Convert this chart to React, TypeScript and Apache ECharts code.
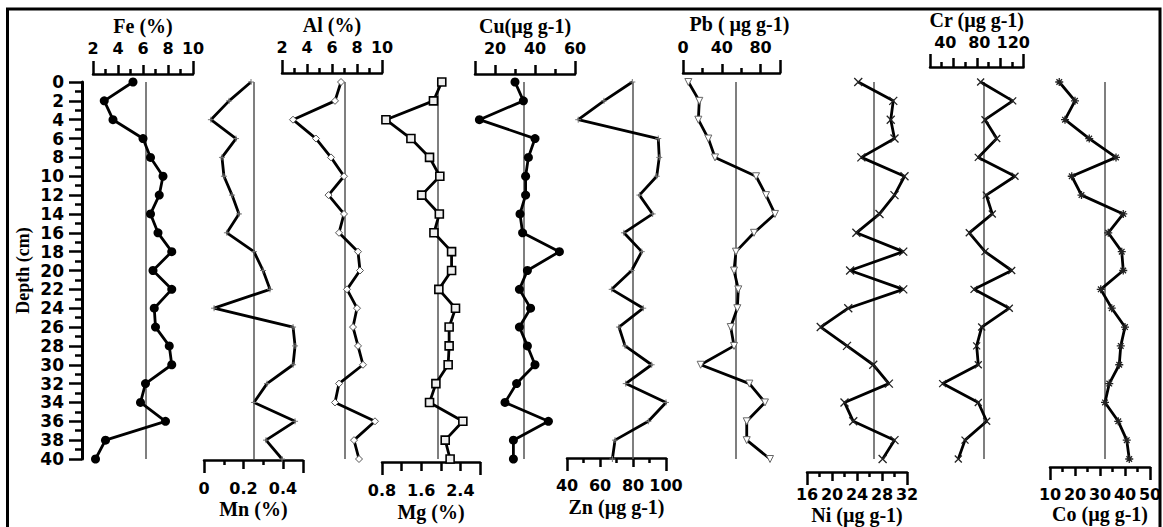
import React, { useEffect, useRef } from "react";
import * as echarts from "echarts";

// Sampling depths (cm)
const depths = [0, 2, 4, 6, 8, 10, 12, 14, 16, 18, 20, 22, 24, 26, 28, 30, 32, 34, 36, 38, 40];

// Element concentrations down the core
const fe = [5.2, 2.9, 3.6, 6.0, 6.6, 7.6, 7.3, 6.6, 7.2, 8.3, 6.8, 8.3, 6.9, 7.0, 8.1, 8.3, 6.2, 5.8, 7.8, 3.0, 2.2];
const mn = [0.238, 0.127, 0.035, 0.162, 0.091, 0.101, 0.142, 0.177, 0.116, 0.253, 0.299, 0.334, 0.051, 0.451, 0.461, 0.451, 0.319, 0.253, 0.461, 0.314, 0.395];
const al = [6.72, 6.24, 2.88, 4.72, 5.92, 6.96, 5.72, 6.96, 6.56, 8.08, 8.24, 7.2, 8.0, 7.68, 8.08, 8.48, 6.56, 6.24, 9.44, 7.76, 8.16];
const mg = [2.02, 1.85, 0.88, 1.39, 1.77, 1.98, 1.61, 1.97, 1.86, 2.22, 2.22, 1.96, 2.3, 2.17, 2.17, 2.15, 1.9, 1.77, 2.45, 2.09, 2.19];
const cu = [30, 34.2, 12.2, 40, 36.7, 35.3, 35.3, 32.5, 33.8, 52.2, 36.2, 32.2, 37.8, 32.2, 36.2, 40, 30.8, 25, 46.7, 29.2, 29.2];
const zn = [79.6, 62.4, 46.8, 95.3, 95.9, 94.4, 83.9, 91.9, 74.5, 85.3, 79.2, 67.1, 86.2, 71.5, 75.2, 91.3, 75.6, 100, 89.3, 69.1, 67.5];
const pb = [5.5, 16.8, 15.8, 26.1, 33, 75.3, 85.6, 94.8, 73.2, 54.6, 52.6, 57, 56, 49.2, 52.6, 18.2, 68.4, 84.5, 65.7, 65.7, 89.7];
const ni = [24.2, 29.8, 29.4, 30.0, 24.7, 31.6, 30.0, 27.6, 23.9, 31.4, 22.9, 31.4, 22.6, 18.2, 22.4, 26.6, 29.1, 22.0, 23.4, 30.0, 28.1];
const cr = [81.6, 119.3, 86.7, 100.5, 78.8, 122, 88.2, 95.3, 68.2, 86.7, 118.1, 73.8, 115.3, 82.8, 76.9, 78.8, 36.9, 78.8, 88.7, 63.2, 55.3];
const co = [13.7, 20, 16, 25.7, 36.4, 18.7, 22.6, 39.3, 33.3, 38.7, 39.3, 30.3, 34.7, 40, 38.3, 37.7, 33.7, 32, 37.3, 40.7, 41.7];

// Mean values shown as vertical reference lines
const means = { fe: 6.24, mn: 0.25, al: 7.0, mg: 1.94, cu: 34.5, zn: 80, pb: 54.6, ni: 26.7, cr: 85.5, co: 32 };

// Axis extents, tick values and labelled values per element
const feAxis = { min: 2, max: 10, labels: [2, 4, 6, 8, 10], major: [4, 6, 8], minor: [3, 5, 7, 9] };
const mnAxis = { min: 0, max: 0.5, labels: [0, 0.2, 0.4], major: [0.2, 0.4], minor: [0.1, 0.3] };
const alAxis = { min: 2, max: 10, labels: [2, 4, 6, 8, 10], major: [4, 6, 8], minor: [3, 5, 7, 9] };
const mgAxis = { min: 0.8, max: 2.8, labels: [0.8, 1.6, 2.4], major: [1.2, 1.6, 2.0, 2.4], minor: [] as number[] };
const cuAxis = { min: 10, max: 60, labels: [20, 40, 60], major: [20, 40], minor: [30, 50] };
const znAxis = { min: 40, max: 100, labels: [40, 60, 80, 100], major: [60, 80], minor: [50, 70, 90] };
const pbAxis = { min: 0, max: 100, labels: [0, 40, 80], major: [40, 80], minor: [20, 60] };
const niAxis = { min: 16, max: 32, labels: [16, 20, 24, 28, 32], major: [20, 24, 28], minor: [18, 22, 26, 30] };
const crAxis = { min: 22, max: 132, labels: [40, 80, 120], major: [49.5, 77, 104.5], minor: [35.75, 63.25, 90.75, 118.25] };
const coAxis = { min: 10, max: 50, labels: [10, 20, 30, 40, 50], major: [20, 30, 40], minor: [15, 25, 35, 45] };

const PLUS = "path://M5,0L5,10M0,5L10,5";
const CROSS = "path://M0,0L10,10M10,0L0,10";
const STAR = "path://M5,0L5,10M0,5L10,5M1.5,1.5L8.5,8.5M8.5,1.5L1.5,8.5";

type AxisSpec = { min: number; max: number; labels: number[]; major: number[]; minor: number[] };
type Panel = {
  name: string;
  values: number[];
  mean: number;
  axis: AxisSpec;
  left: number;
  width: number;
  side: "top" | "bottom";
  offset: number;
  labelMargin: number;
  nameGap: number;
  namePad?: number[];
  symbol: string;
  symbolSize: number;
  symbolRotate?: number;
  itemStyle: Record<string, unknown>;
};

const panels: Panel[] = [
  { name: "Fe (%)", values: fe, mean: means.fe, axis: feAxis, left: 93, width: 100, side: "top", offset: 8, labelMargin: 18, nameGap: 38,
    symbol: "circle", symbolSize: 9, itemStyle: { color: "#000" } },
  { name: "Mn (%)", values: mn, mean: means.mn, axis: mnAxis, left: 204, width: 98.75, side: "bottom", offset: 1, labelMargin: 20, nameGap: 39,
    symbol: PLUS, symbolSize: 6, itemStyle: { color: "#000", borderColor: "#777", borderWidth: 1 } },
  { name: "Al (%)", values: al, mean: means.al, axis: alAxis, left: 282, width: 100, side: "top", offset: 9, labelMargin: 18, nameGap: 38,
    symbol: "diamond", symbolSize: 7, itemStyle: { color: "#fff", borderColor: "#555", borderWidth: 1 } },
  { name: "Mg (%)", values: mg, mean: means.mg, axis: mgAxis, left: 382, width: 98, side: "bottom", offset: 3, labelMargin: 20, nameGap: 40,
    symbol: "rect", symbolSize: 8, itemStyle: { color: "#eee", borderColor: "#000", borderWidth: 1.6 } },
  { name: "Cu(µg g-1)", values: cu, mean: means.cu, axis: cuAxis, left: 475, width: 100, side: "top", offset: 8, labelMargin: 18, nameGap: 38,
    symbol: "circle", symbolSize: 9, itemStyle: { color: "#000" } },
  { name: "Zn (µg g-1)", values: zn, mean: means.zn, axis: znAxis, left: 567, width: 99, side: "bottom", offset: -1, labelMargin: 19, nameGap: 39,
    symbol: PLUS, symbolSize: 6, itemStyle: { color: "#000", borderColor: "#777", borderWidth: 1 } },
  { name: "Pb ( µg g-1)", values: pb, mean: means.pb, axis: pbAxis, left: 683, width: 97, side: "top", offset: 9, labelMargin: 18, nameGap: 39, namePad: [0, 0, 0, 16],
    symbol: "triangle", symbolSize: 7, symbolRotate: 180, itemStyle: { color: "#fff", borderColor: "#666", borderWidth: 1 } },
  { name: "Ni (µg g-1)", values: ni, mean: means.ni, axis: niAxis, left: 807, width: 100, side: "bottom", offset: 13, labelMargin: 14, nameGap: 33,
    symbol: CROSS, symbolSize: 8, itemStyle: { color: "#000", borderColor: "#222", borderWidth: 1.3 } },
  { name: "Cr (µg g-1)", values: cr, mean: means.cr, axis: crAxis, left: 930, width: 93.5, side: "top", offset: 15, labelMargin: 17, nameGap: 37,
    symbol: CROSS, symbolSize: 7, itemStyle: { color: "#000", borderColor: "#222", borderWidth: 1.3 } },
  { name: "Co (µg g-1)", values: co, mean: means.co, axis: coAxis, left: 1050, width: 100, side: "bottom", offset: 8, labelMargin: 19, nameGap: 37,
    symbol: STAR, symbolSize: 8, itemStyle: { color: "#000", borderColor: "#222", borderWidth: 1.3 } },
];

const PLOT_TOP = 82;
const PLOT_HEIGHT = 377;

const labelFont = { color: "#000", fontFamily: "DejaVu Sans", fontWeight: "bold" as const, fontSize: 16 };
const titleFont = { color: "#000", fontFamily: "Liberation Serif", fontWeight: "bold" as const, fontSize: 20 };
const tickLine = { color: "#000", width: 2.5 };

function buildOption() {
  const grid = panels.map((p) => ({
    left: p.left,
    top: PLOT_TOP,
    width: p.width,
    height: PLOT_HEIGHT,
    outerBoundsMode: "none",
  }));

  const xAxis: any[] = [];
  panels.forEach((p, i) => {
    const base = {
      type: "value",
      gridIndex: i,
      min: p.axis.min,
      max: p.axis.max,
      position: p.side,
      offset: p.offset,
      splitLine: { show: false },
    };
    // main axis: line, end ticks, labels, title
    xAxis.push({
      ...base,
      name: p.name,
      nameLocation: "middle",
      nameGap: p.nameGap,
      nameMoveOverlap: false,
      nameTextStyle: { ...titleFont, padding: p.namePad || 0 },
      axisLine: { show: true, onZero: false, lineStyle: { color: "#000", width: 2.5 } },
      axisTick: { show: true, customValues: [p.axis.min, p.axis.max], length: 13, lineStyle: tickLine },
      axisLabel: { show: true, customValues: p.axis.labels, margin: p.labelMargin, ...labelFont },
    });
    // major ticks
    xAxis.push({
      ...base,
      axisLine: { show: false, onZero: false },
      axisLabel: { show: false },
      axisTick: { show: p.axis.major.length > 0, customValues: p.axis.major, length: 9, lineStyle: tickLine },
    });
    // minor ticks
    xAxis.push({
      ...base,
      axisLine: { show: false, onZero: false },
      axisLabel: { show: false },
      axisTick: { show: p.axis.minor.length > 0, customValues: p.axis.minor.length ? p.axis.minor : [p.axis.min], length: 5, lineStyle: tickLine },
    });
  });

  const yAxis = panels.map((p, i) => {
    if (i === 0) {
      return {
        type: "value",
        gridIndex: 0,
        min: 0,
        max: 40,
        interval: 2,
        inverse: true,
        position: "left",
        offset: 11,
        name: "Depth (cm)",
        nameLocation: "middle",
        nameRotate: 90,
        nameGap: 50,
        nameMoveOverlap: false,
        nameTextStyle: { ...titleFont, fontSize: 18 },
        axisLine: { show: true, onZero: false, lineStyle: { color: "#000", width: 3 } },
        axisTick: { show: true, length: 13, lineStyle: tickLine },
        minorTick: { show: true, splitNumber: 2, length: 7, lineStyle: tickLine },
        axisLabel: { margin: 18, ...labelFont, fontSize: 17 },
        splitLine: { show: false },
        minorSplitLine: { show: false },
      };
    }
    return {
      type: "value",
      gridIndex: i,
      min: 0,
      max: 40,
      inverse: true,
      show: false,
      axisLine: { onZero: false },
      splitLine: { show: false },
    };
  });

  const series = panels.map((p, i) => ({
    type: "line",
    name: p.name,
    xAxisIndex: i * 3,
    yAxisIndex: i,
    data: depths.map((d, k) => [p.values[k], d]),
    symbol: p.symbol,
    symbolSize: p.symbolSize,
    symbolRotate: p.symbolRotate || 0,
    clip: false,
    z: 3,
    lineStyle: { color: "#000", width: 2.8 },
    itemStyle: p.itemStyle,
    emphasis: { disabled: true },
    markLine: {
      silent: true,
      symbol: "none",
      label: { show: false },
      lineStyle: { color: "#555", width: 1.5, type: "solid" },
      data: [{ xAxis: p.mean }],
      z: 1,
    },
  }));

  return {
    animation: false,
    backgroundColor: "#fff",
    grid,
    xAxis,
    yAxis,
    series,
    graphic: [
      {
        type: "rect",
        silent: true,
        shape: { x: 7.5, y: 9, width: 1152.5, height: 540 },
        style: { fill: "none", stroke: "#000", lineWidth: 3 },
      },
    ],
  };
}

export default function App() {
  const ref = useRef<HTMLDivElement>(null);

  useEffect(() => {
    if (!ref.current) return;
    const chart = echarts.init(ref.current, undefined, { renderer: "svg" });
    chart.setOption(buildOption() as any);
    return () => chart.dispose();
  }, []);

  return (
    <div
      ref={ref}
      style={{ position: "absolute", left: 0, top: 0, width: 1163, height: 527, background: "#fff" }}
    />
  );
}
